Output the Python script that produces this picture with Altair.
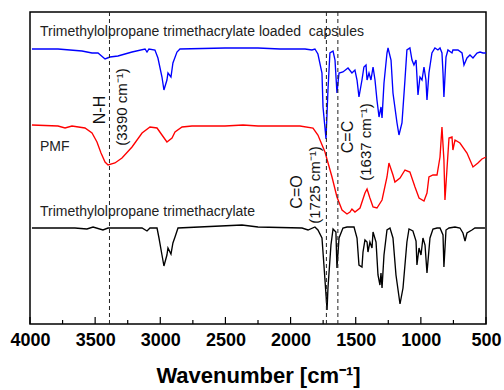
import altair as alt
import pandas as pd

# FTIR spectra, wavenumber (cm^-1) vs. offset transmittance (a.u.)
capsule_wn = [3985, 3785, 3601, 3524, 3478, 3424, 3386, 3325, 3217, 3117, 3102, 3087, 3041, 3018,
              2987, 2972, 2949, 2941, 2918, 2903, 2872, 2849, 2503, 2250, 2081, 1889, 1836, 1813,
              1790, 1759, 1751, 1728, 1713, 1698, 1674, 1659, 1644, 1628, 1598, 1559, 1529, 1506,
              1490, 1475, 1452, 1437, 1421, 1413, 1398, 1383, 1367, 1352, 1337, 1321, 1306, 1298,
              1283, 1260, 1252, 1229, 1214, 1183, 1168, 1145, 1122, 1107, 1084, 1068, 1053, 1037,
              1022, 1007, 991, 976, 961, 953, 938, 915, 892, 869, 853, 838, 830, 823, 807, 792,
              761, 754, 715, 684, 669, 646, 623, 600, 569, 546, 523, 500]
capsule_t = [275, 275, 273, 271, 271, 265, 267, 268, 272, 275, 272, 275, 274, 266,
             247, 234, 244, 251, 247, 261, 272, 275, 276, 276, 275, 275, 274, 275,
             270, 251, 217, 185, 234, 271, 273, 264, 231, 251, 252, 256, 251, 254,
             244, 227, 244, 257, 259, 244, 251, 244, 257, 244, 224, 207, 217, 206,
             241, 271, 276, 264, 231, 201, 189, 201, 244, 274, 276, 264, 259, 264,
             229, 247, 244, 257, 244, 224, 251, 271, 276, 274, 276, 271, 251, 227, 267, 274,
             271, 274, 274, 271, 259, 266, 269, 266, 271, 272, 271, 271]

pmf_wn = [3985, 3785, 3731, 3678, 3578, 3524, 3486, 3455, 3424, 3401, 3348, 3294, 3217, 3140,
          3079, 3025, 2987, 2949, 2910, 2887, 2833, 2757, 2503, 2365, 2250, 1928, 1828, 1790,
          1736, 1682, 1644, 1605, 1567, 1544, 1529, 1506, 1467, 1429, 1413, 1391, 1367, 1337,
          1298, 1260, 1245, 1214, 1199, 1160, 1122, 1084, 1045, 1014, 976, 953, 938, 907, 876,
          853, 838, 823, 815, 800, 784, 761, 754, 738, 700, 646, 600, 562, 531, 500]
pmf_t = [199, 198, 196, 198, 196, 191, 182, 171, 162, 159, 161, 166, 177, 191,
         197, 196, 189, 182, 186, 192, 197, 198, 198, 199, 198, 198, 196, 189,
         172, 147, 127, 114, 110, 112, 115, 112, 116, 131, 135, 126, 117, 116,
         124, 147, 161, 149, 142, 146, 154, 152, 137, 126, 123, 131, 147, 149, 149,
         167, 197, 164, 124, 154, 186, 187, 174, 184, 181, 171, 157, 161, 165, 167]

tmpta_wn = [3985, 3655, 3563, 3516, 3440, 3401, 3140, 3102, 3079, 3025, 3010, 2987, 2972, 2949,
            2941, 2918, 2903, 2887, 2864, 2373, 2250, 1912, 1866, 1813, 1790, 1759, 1744, 1720,
            1713, 1690, 1674, 1652, 1644, 1628, 1598, 1567, 1513, 1490, 1475, 1452, 1444, 1429,
            1413, 1406, 1391, 1375, 1367, 1344, 1329, 1314, 1306, 1298, 1283, 1260, 1237, 1214,
            1191, 1160, 1137, 1107, 1091, 1061, 1037, 1030, 1014, 999, 984, 968, 953, 930, 907,
            876, 853, 830, 823, 807, 784, 738, 700, 677, 661, 646, 608, 585, 546, 508]
tmpta_t = [96, 96, 95, 97, 94, 96, 96, 93, 96, 96, 86, 69, 58, 69,
           76, 70, 81, 87, 96, 99, 97, 96, 94, 97, 94, 86, 59, 14,
           36, 79, 95, 92, 56, 86, 96, 97, 97, 86, 59, 57, 72, 84,
           82, 72, 82, 76, 92, 82, 49, 39, 51, 36, 69, 94, 96, 86,
           49, 20, 36, 82, 95, 93, 83, 59, 76, 69, 86, 79, 51, 86, 95,
           96, 96, 89, 57, 94, 96, 97, 96, 91, 83, 91, 94, 96, 96, 96]

series_names = ["Trimethylolpropane trimethacrylate loaded \u00a0capsules", "PMF",
                "Trimethylolpropane trimethacrylate"]
series_colors = ["#0000ff", "#ff0000", "#000000"]

# Assigned bands (cm^-1)
band_wn = [3390, 1725, 1637]

# Axis ticks
major_ticks = [4000, 3500, 3000, 2500, 2000, 1500, 1000, 500]
minor_ticks = [3750, 3250, 2750, 2250, 1750, 1250, 750]

# Series labels and band annotations
label_text = series_names
label_wn = [3923, 3923, 3923]
label_t = [292, 177, 112]

band_text = ["N-H", "(3390 cm⁻¹)", "C=O", "(1725 cm⁻¹)", "C=C", "(1637 cm⁻¹)"]
band_text_wn = [3463, 3294, 1951, 1813, 1559, 1421]
band_text_t = [214, 217, 132, 139, 187, 182]
band_text_size = [16, 15, 16, 15, 16, 15]

PLOT_W, PLOT_H = 456, 312

rows = []
for name, wn, t in zip(series_names, [capsule_wn, pmf_wn, tmpta_wn], [capsule_t, pmf_t, tmpta_t]):
    for i, (w, v) in enumerate(zip(wn, t)):
        rows.append({"series": name, "wn": w, "t": v, "i": i})
spectra = pd.DataFrame(rows)

x_scale = alt.Scale(domain=[500, 4000], reverse=True, nice=False, zero=False)
y_scale = alt.Scale(domain=[0, 312], nice=False, zero=False)

x_axis = alt.Axis(values=major_ticks, title="Wavenumber [cm⁻¹]", ticks=False, domain=False,
                  grid=False, labelFont="Liberation Sans", labelFontWeight="bold",
                  labelFontSize=18, labelColor="black", labelPadding=7, labelFlush=False,
                  labelOverlap=False, labelBound=False, format="d",
                  titleFont="Liberation Sans", titleFontWeight="bold", titleFontSize=22,
                  titleColor="black", titlePadding=16)

lines = alt.Chart(spectra).mark_line(strokeWidth=1.35).encode(
    x=alt.X("wn:Q", scale=x_scale, axis=x_axis),
    y=alt.Y("t:Q", scale=y_scale, axis=None),
    color=alt.Color("series:N", scale=alt.Scale(domain=series_names, range=series_colors),
                    legend=None),
    order="i:Q",
)

bands = alt.Chart(pd.DataFrame({"wn": band_wn})).mark_rule(
    color="#222", strokeWidth=1, strokeDash=[4, 3]
).encode(x=alt.X("wn:Q", scale=x_scale), y=alt.value(0), y2=alt.value(PLOT_H))

major = alt.Chart(pd.DataFrame({"wn": major_ticks})).mark_rule(color="black", strokeWidth=1.2).encode(
    x=alt.X("wn:Q", scale=x_scale), y=alt.value(PLOT_H), y2=alt.value(PLOT_H - 7))
minor = alt.Chart(pd.DataFrame({"wn": minor_ticks})).mark_rule(color="black", strokeWidth=1.2).encode(
    x=alt.X("wn:Q", scale=x_scale), y=alt.value(PLOT_H), y2=alt.value(PLOT_H - 4))

labels = alt.Chart(pd.DataFrame({"text": label_text, "wn": label_wn, "t": label_t})).mark_text(
    align="left", baseline="middle", font="Liberation Sans", fontSize=14, color="#222"
).encode(x=alt.X("wn:Q", scale=x_scale), y=alt.Y("t:Q", scale=y_scale), text="text:N")

band_labels = alt.Chart(pd.DataFrame({"text": band_text, "wn": band_text_wn, "t": band_text_t,
                                      "size": band_text_size})).mark_text(
    align="center", baseline="middle", angle=270, font="Liberation Sans", color="#111"
).encode(x=alt.X("wn:Q", scale=x_scale), y=alt.Y("t:Q", scale=y_scale), text="text:N",
         size=alt.Size("size:Q", scale=None, legend=None))

chart = alt.layer(lines, bands, major, minor, labels, band_labels).properties(
    width=PLOT_W, height=PLOT_H,
    autosize=alt.AutoSizeParams(type="none"),
    padding={"left": 30, "top": 12, "right": 18, "bottom": 66},
).configure_view(stroke="black", strokeWidth=1.5)

chart.save("out.html", embed_options={"renderer": "svg", "actions": False})
